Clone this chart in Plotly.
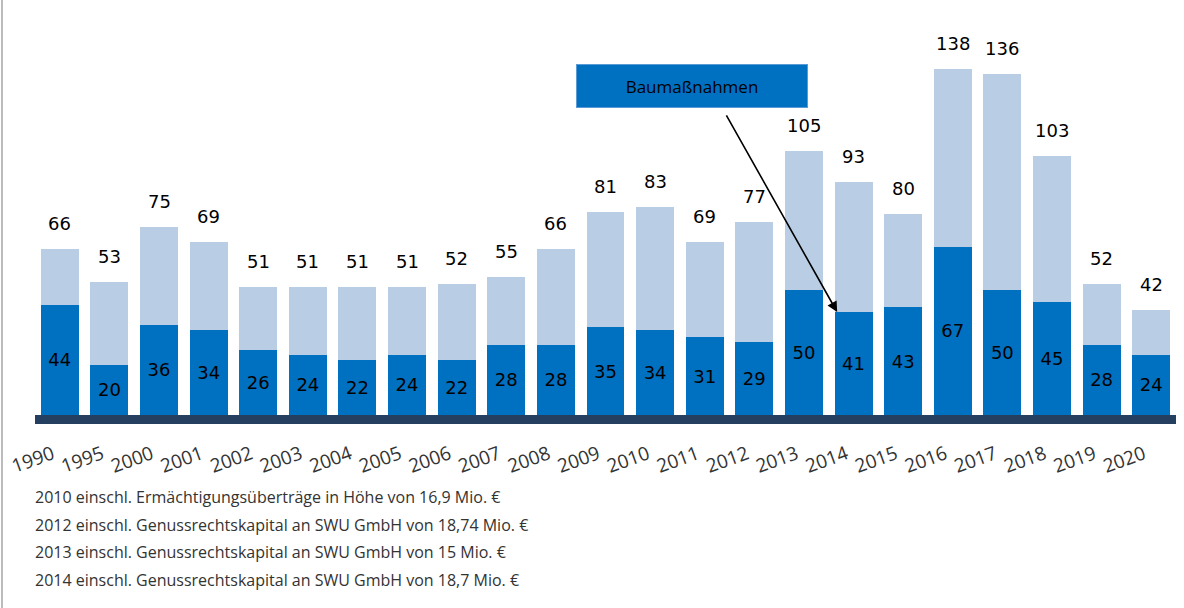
import plotly.graph_objects as go

years = ["1990", "1995", "2000", "2001", "2002", "2003", "2004", "2005", "2006", "2007",
         "2008", "2009", "2010", "2011", "2012", "2013", "2014", "2015", "2016", "2017",
         "2018", "2019", "2020"]
totals = [66, 53, 75, 69, 51, 51, 51, 51, 52, 55, 66, 81, 83, 69, 77, 105, 93, 80, 138, 136, 103, 52, 42]
bau = [44, 20, 36, 34, 26, 24, 22, 24, 22, 28, 28, 35, 34, 31, 29, 50, 41, 43, 67, 50, 45, 28, 24]
rest = [t - b for t, b in zip(totals, bau)]

footnotes = [
    "2010 einschl. Ermächtigungsüberträge in Höhe von 16,9 Mio. €",
    "2012 einschl. Genussrechtskapital an SWU GmbH von 18,74 Mio. €",
    "2013 einschl. Genussrechtskapital an SWU GmbH von 15 Mio. €",
    "2014 einschl. Genussrechtskapital an SWU GmbH von 18,7 Mio. €",
]
callout_label = "Baumaßnahmen"
callout_year = "2014"

W, H = 1184, 608
ML, MR, MT, MB = 35, 8, 40, 183
PW, PH = W - ML - MR, H - MT - MB


def px(x):
    return (x - ML) / PW


def py(y):
    return 1 - (y - MT) / PH


DARK = "#0070C0"
LIGHT = "#B9CDE5"
NAVY = "#243F60"
idx = list(range(len(years)))

fig = go.Figure()
fig.add_trace(go.Bar(
    x=idx, y=bau, marker=dict(color=DARK, line=dict(width=0)),
    text=[str(v) for v in bau], textposition="inside", insidetextanchor="middle",
    textangle=0, insidetextfont=dict(family="DejaVu Sans", size=18, color="black"),
    constraintext="none", showlegend=False, hoverinfo="skip",
))
fig.add_trace(go.Bar(
    x=idx, y=rest, marker=dict(color=LIGHT, line=dict(width=0)),
    showlegend=False, hoverinfo="skip",
))

annotations = []
for i, t in zip(idx, totals):
    annotations.append(dict(
        x=i, y=t, xref="x", yref="y", text=str(t), showarrow=False,
        xanchor="center", yanchor="bottom", yshift=13,
        font=dict(family="DejaVu Sans", size=18, color="black"),
    ))

# callout box and arrow
ci = years.index(callout_year)
annotations.append(dict(
    x=px(692), y=py(86), xref="paper", yref="paper", text=callout_label,
    xanchor="center", yanchor="middle",
    showarrow=False, width=228, height=40, bgcolor=DARK,
    bordercolor="#5B9BD5", borderwidth=1,
    font=dict(family="Open Sans", size=17, color="black"),
))
annotations.append(dict(
    x=ci - 0.33, y=bau[ci], xref="x", yref="y",
    ax=ci - 2.58, ay=120, axref="x", ayref="y",
    text="", showarrow=True, arrowhead=2, arrowsize=1.3, arrowwidth=1.6,
    arrowcolor="black",
))

for i, fn in enumerate(footnotes):
    annotations.append(dict(
        x=px(33), y=py(497 + i * 27.5), xref="paper", yref="paper", text=fn,
        showarrow=False, xanchor="left", yanchor="middle",
        font=dict(family="Open Sans", size=16, color="#333333"),
    ))

shapes = [
    dict(type="rect", xref="x", yref="y", x0=-0.58, x1=22.5, y0=-3.6, y1=0,
         fillcolor=NAVY, line=dict(width=0), layer="above"),
    dict(type="line", xref="paper", yref="paper", x0=px(2), x1=px(2), y0=py(0), y1=py(608),
         line=dict(color="#A6A6A6", width=1.5)),
]

fig.update_layout(
    width=W, height=H, margin=dict(l=ML, r=MR, t=MT, b=MB),
    barmode="stack", bargap=0.235,
    plot_bgcolor="white", paper_bgcolor="white",
    xaxis=dict(type="linear", tickmode="array", tickvals=[i - 0.15 for i in idx], ticktext=years,
               tickangle=-20, showgrid=False, showline=False, zeroline=False,
               ticks="outside", ticklen=10, tickcolor="rgba(0,0,0,0)",
               tickfont=dict(family="Open Sans", size=19, color="#333333"),
               range=[-0.5, 22.5]),
    yaxis=dict(range=[-3.98, 149.4], visible=False, showgrid=False, zeroline=False),
    annotations=annotations, shapes=shapes,
)

fig.write_html("out.html", config={"displayModeBar": False},
               post_script="document.body.style.margin='0px';document.body.style.overflow='hidden';")
